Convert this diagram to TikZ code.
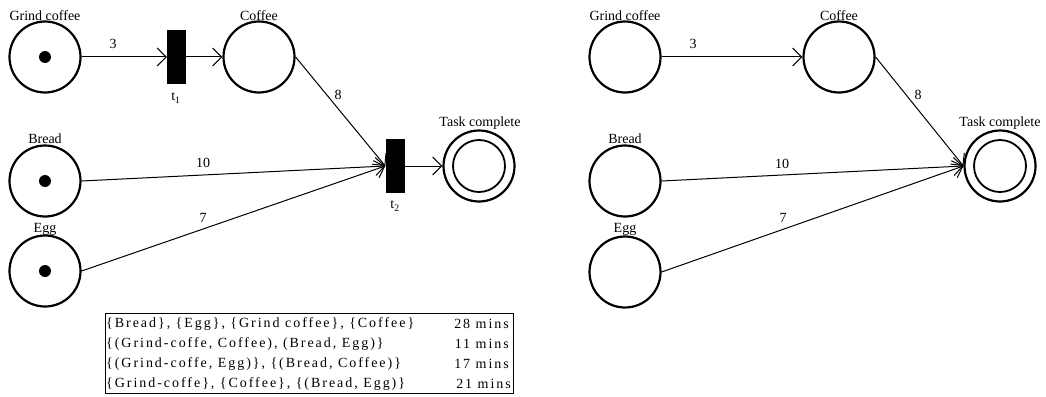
\documentclass[tikz,border=0pt]{standalone}
\usepackage{fontspec}
\setmainfont{Liberation Serif}
\usetikzlibrary{arrows.meta}
\begin{document}
\begin{tikzpicture}[x=1pt,y=-1pt,
  place/.style={circle,draw,line width=2.2pt,minimum size=71pt,inner sep=0pt},
  inner/.style={circle,draw,line width=1.8pt,minimum size=52pt,inner sep=0pt},
  token/.style={circle,fill=black,minimum size=12pt,inner sep=0pt},
  trans/.style={rectangle,fill=black,minimum width=19pt,minimum height=54pt,inner sep=0pt},
  lbl/.style={inner sep=0pt,font=\fontsize{14}{16}\selectfont},
  wt/.style={inner sep=0pt,font=\fontsize{14}{16}\selectfont},
  tl/.style={inner sep=0pt,font=\fontsize{14}{16}\selectfont\addfontfeature{LetterSpace=14}},
  arc/.style={line width=1pt,-{Straight Barb[length=9pt,width=18pt,line width=1pt]}},
  line/.style={line width=1pt}]
\useasboundingbox (0,0) rectangle (1046,396);
% ---------- left net ----------
\node[place] (g1) at (45,57) {};
\node[token] (g1t) at (45,57) {};
\node[lbl] (g1l) at (45,16) {Grind coffee};
\node[place] (c1) at (259,57) {};
\node[lbl] (c1l) at (259,16) {Coffee};
\node[place] (b1) at (45,181) {};
\node[token] (b1t) at (45,181) {};
\node[lbl] (b1l) at (45,139) {Bread};
\node[place] (e1) at (45,271) {};
\node[token] (e1t) at (45,271) {};
\node[lbl] (e1l) at (45,229) {Egg};
\node[place] (k1) at (479,166) {};
\node[inner] (k1i) at (479,166) {};
\node[lbl] (k1l) at (480,123) {Task complete};
\node[trans] (t1) at (176.5,57) {};
\node[lbl] (t1l) at (176,98) {t\textsubscript{1}};
\node[trans] (t2) at (395,166) {};
\node[lbl] (t2l) at (395,206) {t\textsubscript{2}};
\draw[arc] (g1.east) -- (t1.west);
\draw[arc] (t1.east) -- (c1.west);
\draw[arc] (c1.east) -- (t2.west);
\draw[arc] (b1.east) -- (t2.west);
\draw[arc] (e1.east) -- (t2.west);
\draw[arc] (t2.east) -- (k1.west);
\node[wt] (w1) at (113,44) {3};
\node[wt] (w2) at (338,95) {8};
\node[wt] (w3) at (203,163) {10};
\node[wt] (w4) at (203,218) {7};
% ---------- table ----------
\node[draw,line width=1pt,minimum width=408pt,minimum height=80pt,inner sep=0pt] (tab) at (309,353) {};
\node[tl,anchor=west] (r1a) at (106,324) {\{Bread\}, \{Egg\}, \{Grind coffee\}, \{Coffee\}};
\node[tl,anchor=east] (r1b) at (509,324) {28 mins};
\node[tl,anchor=west] (r2a) at (106,344) {\{(Grind-coffe, Coffee), (Bread, Egg)\}};
\node[tl,anchor=east] (r2b) at (509,344) {11 mins};
\node[tl,anchor=west] (r3a) at (106,364) {\{(Grind-coffe, Egg)\}, \{(Bread, Coffee)\}};
\node[tl,anchor=east] (r3b) at (509,364) {17 mins};
\node[tl,anchor=west] (r4a) at (106,384) {\{Grind-coffe\}, \{Coffee\}, \{(Bread, Egg)\}};
\node[tl,anchor=east] (r4b) at (511,384) {21 mins};
% ---------- right net ----------
\node[place] (g2) at (625,57) {};
\node[lbl] (g2l) at (625,16) {Grind coffee};
\node[place] (c2) at (839,57) {};
\node[lbl] (c2l) at (839,16) {Coffee};
\node[place] (b2) at (625,181) {};
\node[lbl] (b2l) at (625,139) {Bread};
\node[place] (e2) at (625,272) {};
\node[lbl] (e2l) at (625,229) {Egg};
\node[place] (k2) at (1000,166) {};
\node[inner] (k2i) at (1000,166) {};
\node[lbl] (k2l) at (1000,123) {Task complete};
\draw[arc] (g2.east) -- (c2.west);
\draw[arc] (c2.east) -- (k2.west);
\draw[arc] (b2.east) -- (k2.west);
\draw[arc] (e2.east) -- (k2.west);
\node[wt] (w5) at (693,44) {3};
\node[wt] (w6) at (918,95) {8};
\node[wt] (w7) at (782,164) {10};
\node[wt] (w8) at (783,218) {7};
\end{tikzpicture}
\end{document}
